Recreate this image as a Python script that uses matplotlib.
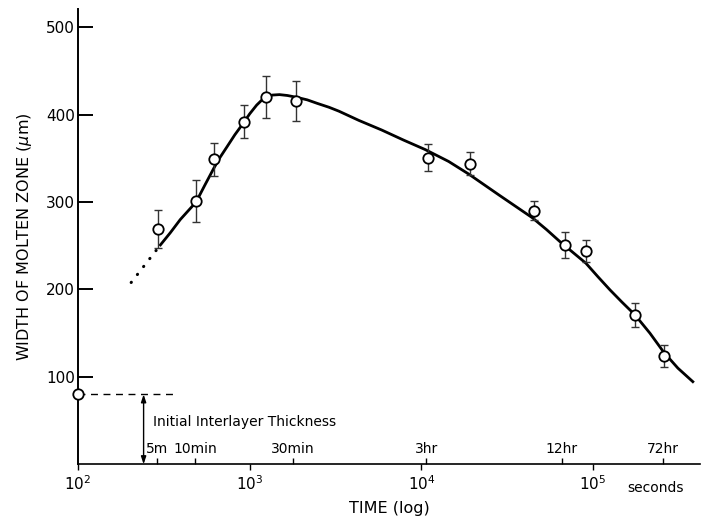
import numpy as np
import matplotlib.pyplot as plt
from matplotlib.ticker import FixedLocator, NullFormatter, LogFormatterMathtext

plt.rcParams['font.family'] = 'DejaVu Sans'

# measured widths (time in seconds)
tData = [294, 487, 619, 923, 1240, 1870, 11000, 19100, 45600, 68400, 91000, 175000, 259000]
wData = [269, 301, 349, 392, 420, 416, 351, 344, 290, 251, 244, 171, 124]
wErr = [22, 24, 19, 19, 24, 23, 15, 13, 11, 15, 13, 14, 13]

# drawn curve, solid part
tCurve = [302, 345, 394, 438, 487, 550, 619, 671, 736, 819, 923, 1000, 1098,
          1173, 1254, 1358, 1491, 1658, 1869, 2164, 2473, 2900, 3313, 4323,
          5873, 7870, 10560, 14420, 18900, 28380, 44370, 53630, 63960, 76280,
          90950, 106900, 125600, 147500, 175400, 214500, 258700, 312100, 381400]
wCurve = [251, 265, 280, 290, 300, 320, 339, 351, 363, 377, 391, 401, 411,
          416.5, 420.5, 422.5, 423, 422, 420, 417, 413, 408.5, 404, 393.5,
          382.5, 371, 360, 346.5, 332, 308, 282, 268.5, 255, 242.5,
          230, 214.5, 199.5, 185.5, 171, 150, 128, 110, 94.5]
# dotted extrapolation
tDots = [204, 302]
wDots = [208, 251]

# initial interlayer thickness
tInit = [100]
wInit = [80]

# time marks above the axis
timeTicks = [290, 481, 1790, 10700, 65900, 255000]
timeLabels = ['5m', '10min', '30min', '3hr', '12hr', '72hr']


fig = plt.figure(figsize=(7.01, 5.25), dpi=100)
ax = fig.add_axes([0.1113, 0.1157, 0.8873, 0.8672])

ax.plot(tCurve, wCurve, color='black', lw=2.0, zorder=2)
ax.plot(tDots, wDots, color='black', lw=2.2, linestyle=(0, (0.1, 3.2)),
        dash_capstyle='round', zorder=2)

ax.errorbar(tData, wData, yerr=wErr, fmt='none', ecolor='#333333',
            elinewidth=1.0, capsize=3, capthick=1.0, zorder=3)
ax.plot(tData, wData, 'o', ms=7.5, mfc='white', mec='black', mew=1.3, zorder=4)

# initial thickness marker and dashed guide
ax.plot(tInit, wInit, 'o', ms=7.5, mfc='white', mec='black', mew=1.3,
        zorder=4, clip_on=False)
ax.plot([100, 373], [80, 80], color='black', lw=1.0, linestyle=(0, (5, 4)), zorder=1)
ax.annotate('', xy=(241, 0), xytext=(241, 80),
            arrowprops=dict(arrowstyle='<|-|>,head_length=0.45,head_width=0.15',
                            color='black', lw=1.0, shrinkA=0, shrinkB=0))
ax.text(272, 48, 'Initial Interlayer Thickness', fontsize=10, ha='left', va='center')

ax.set_xscale('log')
ax.set_xlim(100, 4.2e5)
ax.set_ylim(0, 521)

ax.spines['top'].set_visible(False)
ax.spines['right'].set_visible(False)
ax.spines['left'].set_linewidth(1.4)
ax.spines['bottom'].set_linewidth(1.2)

ax.set_yticks([100, 200, 300, 400, 500])
ax.tick_params(axis='y', direction='in', length=11, width=1.4, labelsize=11, pad=2)

ax.xaxis.set_major_locator(FixedLocator([1e2, 1e3, 1e4, 1e5]))
ax.xaxis.set_major_formatter(LogFormatterMathtext())
ax.xaxis.set_minor_locator(FixedLocator(timeTicks))
ax.xaxis.set_minor_formatter(NullFormatter())
ax.tick_params(axis='x', which='major', direction='out', length=4, width=1.0,
               labelsize=11, pad=3)
ax.tick_params(axis='x', which='minor', direction='in', length=4.5, width=1.0)

for t, lab in zip(timeTicks, timeLabels):
    ax.text(t, 18, lab, fontsize=10, ha='center', va='center')

ax.text(1.58e5, -27.5, 'seconds', fontsize=10, ha='left', va='center', clip_on=False)

ax.set_xlabel('TIME (log)', fontsize=11.5, labelpad=6)
ax.set_ylabel(r'WIDTH OF MOLTEN ZONE ($\mu$m)', fontsize=11.5, labelpad=9)

plt.savefig('out.png', dpi=100)
